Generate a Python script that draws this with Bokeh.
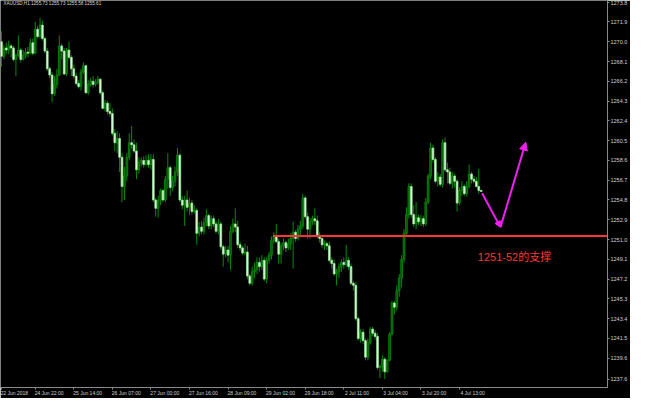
import numpy as np
from bokeh.plotting import figure
from bokeh.models import (ColumnDataSource, Range1d, FixedTicker, Arrow, NormalHead,
                          Label, NumeralTickFormatter)
from bokeh.core.properties import value
from bokeh.embed import file_html
from bokeh.resources import INLINE

# ---------------- data (XAUUSD H1) ----------------
opens = [
    1270.0, 1268.6, 1269.4, 1269.2, 1269.6, 1269.4, 1268.3, 1268.7, 1269.2, 1268.3,
    1268.7, 1269.0, 1268.9, 1269.9, 1268.9, 1271.2, 1270.5, 1271.6, 1270.3, 1269.1,
    1267.4, 1266.8, 1265.0, 1265.9, 1266.8, 1269.6, 1269.1, 1266.9, 1269.2, 1268.5,
    1267.4, 1266.7, 1266.0, 1265.7, 1267.1, 1267.7, 1265.1, 1265.9, 1266.2, 1265.9,
    1266.1, 1266.4, 1265.1, 1263.6, 1264.1, 1263.3, 1263.1, 1261.2, 1260.3, 1260.7,
    1258.9, 1256.1, 1257.1, 1258.9, 1260.3, 1260.1, 1259.5, 1257.7, 1258.4, 1258.6,
    1258.2, 1258.6, 1258.2, 1258.7, 1254.8, 1254.0, 1254.8, 1255.7, 1254.8, 1256.8,
    1257.9, 1256.0, 1256.6, 1257.5, 1259.1, 1254.8, 1254.3, 1254.8, 1254.1, 1254.5,
    1253.7, 1253.8, 1251.6, 1252.2, 1251.8, 1252.6, 1253.3, 1252.3, 1253.0, 1252.5,
    1251.8, 1252.5, 1250.3, 1249.6, 1250.0, 1249.5, 1251.8, 1252.5, 1252.2, 1250.5,
    1250.2, 1249.7, 1249.8, 1247.5, 1246.8, 1247.9, 1248.1, 1248.8, 1248.4, 1249.0,
    1247.2, 1249.0, 1249.5, 1250.9, 1251.3, 1250.8, 1249.6, 1250.4, 1250.7, 1250.2,
    1250.6, 1251.1, 1251.7, 1251.1, 1252.0, 1252.3, 1255.0, 1253.2, 1252.0, 1252.7,
    1253.0, 1252.8, 1251.3, 1251.1, 1250.5, 1250.6, 1250.4, 1249.0, 1248.7, 1247.7,
    1247.9, 1248.4, 1248.8, 1248.6, 1249.0, 1248.4, 1246.8, 1246.6, 1243.4, 1241.5,
    1242.1, 1241.3, 1239.7, 1241.1, 1242.4, 1242.0, 1241.7, 1238.7, 1238.8, 1239.5,
    1238.3, 1239.4, 1241.9, 1244.9, 1244.5, 1246.1, 1247.3, 1249.1, 1251.6, 1253.4,
    1256.1, 1253.4, 1252.5, 1253.1, 1252.7, 1253.0, 1252.5, 1254.6, 1257.1, 1259.8,
    1258.7, 1256.6, 1257.0, 1256.3, 1260.3, 1257.7, 1257.5, 1256.4, 1257.1, 1256.6,
    1254.5, 1255.7, 1256.1, 1255.4, 1256.1, 1257.3, 1256.8, 1256.6, 1256.1, 1255.73,
]
closes = [
    1268.6, 1269.4, 1269.2, 1269.6, 1269.4, 1268.3, 1268.7, 1269.2, 1268.3, 1268.7,
    1269.0, 1268.9, 1269.9, 1268.9, 1271.2, 1270.5, 1271.6, 1270.3, 1269.1, 1267.4,
    1266.8, 1265.0, 1265.9, 1266.8, 1269.6, 1269.1, 1266.9, 1269.2, 1268.5, 1267.4,
    1266.7, 1266.0, 1265.7, 1267.1, 1267.7, 1265.1, 1265.9, 1266.2, 1265.9, 1266.1,
    1266.4, 1265.1, 1263.6, 1264.1, 1263.3, 1263.1, 1261.2, 1260.3, 1260.7, 1258.9,
    1256.1, 1257.1, 1258.9, 1260.3, 1260.1, 1259.5, 1257.7, 1258.4, 1258.6, 1258.2,
    1258.6, 1258.2, 1258.7, 1254.8, 1254.0, 1254.8, 1255.7, 1254.8, 1256.8, 1257.9,
    1256.0, 1256.6, 1257.5, 1259.1, 1254.8, 1254.3, 1254.8, 1254.1, 1254.5, 1253.7,
    1253.8, 1251.6, 1252.2, 1251.8, 1252.6, 1253.3, 1252.3, 1253.0, 1252.5, 1251.8,
    1252.5, 1250.3, 1249.6, 1250.0, 1249.5, 1251.8, 1252.5, 1252.2, 1250.5, 1250.2,
    1249.7, 1249.8, 1247.5, 1246.8, 1247.9, 1248.1, 1248.8, 1248.4, 1249.0, 1247.2,
    1249.0, 1249.5, 1250.9, 1251.3, 1250.8, 1249.6, 1250.4, 1250.7, 1250.2, 1250.6,
    1251.1, 1251.7, 1251.1, 1252.0, 1252.3, 1255.0, 1253.2, 1252.0, 1252.7, 1253.0,
    1252.8, 1251.3, 1251.1, 1250.5, 1250.6, 1250.4, 1249.0, 1248.7, 1247.7, 1247.9,
    1248.4, 1248.8, 1248.6, 1249.0, 1248.4, 1246.8, 1246.6, 1243.4, 1241.5, 1242.1,
    1241.3, 1239.7, 1241.1, 1242.4, 1242.0, 1241.7, 1238.7, 1238.8, 1239.5, 1238.3,
    1239.4, 1241.9, 1244.9, 1244.5, 1246.1, 1247.3, 1249.1, 1251.6, 1253.4, 1256.1,
    1253.4, 1252.5, 1253.1, 1252.7, 1253.0, 1252.5, 1254.6, 1257.1, 1259.8, 1258.7,
    1256.6, 1257.0, 1256.3, 1260.3, 1257.7, 1257.5, 1256.4, 1257.1, 1256.6, 1254.5,
    1255.7, 1256.1, 1255.4, 1256.1, 1257.3, 1256.8, 1256.6, 1256.1, 1255.7, 1255.61,
]
highs = [
    1271.0, 1269.7, 1269.9, 1270.1, 1269.8, 1269.6, 1268.9, 1270.6, 1269.4, 1269.2,
    1269.4, 1269.5, 1270.3, 1270.3, 1271.9, 1271.5, 1272.3, 1272.0, 1270.5, 1269.4,
    1267.6, 1267.1, 1266.7, 1267.4, 1270.6, 1269.8, 1269.4, 1269.4, 1270.0, 1268.7,
    1267.8, 1267.0, 1266.3, 1267.4, 1268.0, 1267.8, 1266.3, 1266.5, 1266.7, 1266.4,
    1266.7, 1266.5, 1265.3, 1264.4, 1264.3, 1264.1, 1263.6, 1261.6, 1261.4, 1261.2,
    1259.3, 1258.0, 1259.3, 1261.2, 1261.9, 1260.6, 1260.3, 1258.9, 1258.9, 1259.0,
    1259.1, 1259.2, 1259.2, 1259.2, 1255.0, 1255.2, 1255.9, 1255.9, 1257.1, 1259.3,
    1258.1, 1257.1, 1258.0, 1259.8, 1259.3, 1255.2, 1255.2, 1255.7, 1255.0, 1254.8,
    1254.3, 1254.0, 1252.7, 1252.8, 1253.1, 1253.9, 1253.5, 1253.3, 1253.3, 1252.8,
    1253.0, 1252.7, 1250.5, 1250.4, 1250.4, 1252.3, 1253.0, 1254.0, 1252.8, 1250.8,
    1250.4, 1250.6, 1250.4, 1247.7, 1248.4, 1248.8, 1249.3, 1249.3, 1249.5, 1249.3,
    1249.3, 1249.8, 1251.3, 1251.7, 1252.5, 1251.1, 1250.7, 1251.1, 1250.9, 1251.1,
    1251.6, 1252.7, 1251.9, 1252.4, 1252.8, 1255.4, 1255.2, 1253.6, 1253.1, 1253.3,
    1254.0, 1253.3, 1251.7, 1251.3, 1250.9, 1250.8, 1250.8, 1249.3, 1249.1, 1248.2,
    1248.7, 1249.1, 1249.3, 1250.5, 1249.3, 1248.7, 1247.0, 1246.9, 1243.6, 1242.4,
    1242.4, 1241.5, 1241.5, 1242.6, 1242.6, 1242.3, 1242.0, 1239.0, 1239.9, 1239.7,
    1239.5, 1242.1, 1245.1, 1245.1, 1246.6, 1247.7, 1249.5, 1252.0, 1254.1, 1256.4,
    1256.4, 1254.3, 1254.6, 1253.4, 1253.4, 1253.3, 1255.0, 1257.3, 1260.3, 1260.1,
    1258.9, 1257.5, 1257.3, 1260.6, 1260.8, 1258.4, 1257.9, 1257.5, 1257.3, 1256.8,
    1256.0, 1256.6, 1256.3, 1256.6, 1258.2, 1257.5, 1257.1, 1257.0, 1257.8, 1255.73,
]
lows = [
    1267.6, 1268.3, 1268.8, 1268.8, 1268.5, 1268.1, 1266.7, 1268.5, 1268.0, 1268.2,
    1268.4, 1268.5, 1268.8, 1268.7, 1268.8, 1270.3, 1270.3, 1270.1, 1268.9, 1267.2,
    1266.5, 1264.2, 1264.8, 1265.5, 1266.7, 1268.3, 1266.8, 1266.7, 1268.3, 1266.7,
    1266.5, 1265.8, 1265.5, 1265.3, 1266.9, 1265.0, 1264.9, 1265.7, 1265.6, 1265.7,
    1265.9, 1264.9, 1263.5, 1263.3, 1263.0, 1262.8, 1261.0, 1259.5, 1259.3, 1257.5,
    1254.6, 1254.8, 1256.6, 1258.6, 1259.7, 1259.3, 1256.8, 1257.3, 1258.0, 1257.9,
    1258.1, 1257.9, 1257.7, 1254.6, 1253.2, 1253.1, 1254.3, 1254.6, 1254.6, 1255.9,
    1255.2, 1255.7, 1256.1, 1257.1, 1254.6, 1253.9, 1252.3, 1253.7, 1253.4, 1253.4,
    1253.5, 1250.5, 1251.3, 1251.5, 1251.5, 1252.3, 1252.0, 1252.0, 1252.2, 1251.6,
    1251.5, 1250.0, 1248.4, 1249.3, 1248.8, 1248.1, 1251.6, 1251.7, 1250.2, 1249.9,
    1249.5, 1249.5, 1247.2, 1246.6, 1246.6, 1247.3, 1247.7, 1247.9, 1248.1, 1247.0,
    1246.8, 1248.7, 1249.1, 1250.6, 1250.7, 1248.7, 1248.7, 1250.0, 1249.8, 1250.0,
    1250.0, 1248.2, 1250.8, 1250.9, 1251.4, 1252.0, 1253.0, 1251.1, 1251.1, 1252.4,
    1252.4, 1251.1, 1250.7, 1250.2, 1250.0, 1250.0, 1248.8, 1248.2, 1247.5, 1246.6,
    1247.3, 1247.9, 1248.2, 1248.4, 1248.1, 1246.6, 1246.1, 1243.2, 1241.3, 1241.1,
    1241.0, 1239.4, 1239.4, 1240.9, 1241.7, 1241.4, 1238.5, 1237.7, 1238.3, 1237.6,
    1238.2, 1239.3, 1241.8, 1243.8, 1244.2, 1245.5, 1246.4, 1248.8, 1251.3, 1253.0,
    1253.1, 1252.2, 1252.0, 1252.4, 1252.3, 1252.2, 1252.3, 1254.4, 1256.8, 1258.4,
    1256.4, 1256.1, 1256.1, 1256.0, 1257.5, 1256.4, 1256.2, 1255.9, 1256.0, 1253.7,
    1254.3, 1255.2, 1255.2, 1255.1, 1255.9, 1256.4, 1256.4, 1256.0, 1255.4, 1255.58,
]

date_ticks = [0, 14, 30, 46, 62, 78, 94, 110, 126, 142, 158, 174, 190]
date_labels = ["22 Jun 2018", "24 Jun 22:00", "25 Jun 14:00", "26 Jun 07:00",
               "27 Jun 00:00", "27 Jun 16:00", "28 Jun 09:00", "29 Jun 02:00",
               "29 Jun 18:00", "2 Jul 11:00", "3 Jul 04:00", "3 Jul 20:00",
               "4 Jul 13:00"]
price_ticks = [1237.6, 1239.6, 1241.5, 1243.4, 1245.3, 1247.2, 1249.1, 1251.0,
               1252.9, 1254.8, 1256.7, 1258.6, 1260.5, 1262.4, 1264.3, 1266.2,
               1268.1, 1270.0, 1271.9, 1273.8]

support_level = 1251.35
support_start = 112.6
support_text = "1251-52的支撑"
text_pos = (197.6, 1249.3)
arrow_x = [199.4, 207.0, 217.5]
arrow_y = [1255.45, 1252.18, 1260.35]
title_text = "XAUUSD,H1  1255.73 1255.73 1255.58 1255.61"

# ---------------- build ----------------
o = np.array(opens)
c = np.array(closes)
h = np.array(highs)
l = np.array(lows)
x = np.arange(len(c))
up = c > o
dn = ~up

src = ColumnDataSource(dict(x=x, high=h, low=l))
bull = ColumnDataSource(dict(x=x[up], top=np.maximum(o, c)[up], bottom=np.minimum(o, c)[up]))
bear = ColumnDataSource(dict(x=x[dn], top=np.maximum(o, c)[dn], bottom=np.minimum(o, c)[dn]))

X_END = 251.4
p = figure(width=630, height=398, output_backend="svg", toolbar_location=None,
           x_range=Range1d(-0.4, X_END), y_range=Range1d(1236.79, 1273.96),
           x_axis_location="below", y_axis_location="right",
           background_fill_color="black", border_fill_color="black",
           outline_line_color=None, min_border=0)
p.grid.visible = False

FONT = "Liberation Sans"
AX = "#8a8a8a"
LAB = "#d0d0d0"
NB = "\u00a0"

# MetaTrader prints each date label starting at its tick: pad on the left so the
# centred Bokeh label begins at the tick mark (the first one is already at the edge).
def left_start(s, i):
    return s if i == 0 else NB * round(len(s) * 1.7) + s

xa = p.xaxis[0]
xa.ticker = FixedTicker(ticks=date_ticks)
xa.major_label_overrides = {t: left_start(s, i)
                            for i, (t, s) in enumerate(zip(date_ticks, date_labels))}
xa.major_label_text_font = FONT
xa.major_label_text_font_size = "5px"
xa.major_label_text_color = LAB
xa.major_label_standoff = 0
xa.axis_line_color = AX
xa.major_tick_line_color = AX
xa.major_tick_in = 0
xa.major_tick_out = 2
xa.minor_tick_line_color = None

ya = p.yaxis[0]
ya.ticker = FixedTicker(ticks=price_ticks)
ya.formatter = NumeralTickFormatter(format="0.0")
ya.major_label_text_font = FONT
ya.major_label_text_font_size = "5.5px"
ya.major_label_text_color = LAB
ya.major_label_standoff = 1
ya.axis_line_color = AX
ya.major_tick_line_color = AX
ya.major_tick_in = 0
ya.major_tick_out = 2
ya.minor_tick_line_color = None

# candles
p.segment(x0="x", y0="low", x1="x", y1="high", source=src, line_color="#0a8a0a", line_width=1)
p.vbar(x="x", width=0.72, top="top", bottom="bottom", source=bull,
       fill_color="#005a00", line_color="#0a8a0a", line_width=0.8)
p.vbar(x="x", width=0.72, top="top", bottom="bottom", source=bear,
       fill_color="#eaffea", line_color="#90e090", line_width=0.8)

# support line
p.segment(x0=[support_start], y0=[support_level], x1=[X_END + 10], y1=[support_level],
          line_color="#ff3535", line_width=2)

# magenta projection arrows
MAG = "#f020f0"
p.add_layout(Arrow(x_start=arrow_x[0], y_start=arrow_y[0], x_end=arrow_x[1], y_end=arrow_y[1],
                   line_color=MAG, line_width=2,
                   end=NormalHead(size=6, fill_color=MAG, line_color=MAG)))
p.add_layout(Arrow(x_start=arrow_x[1], y_start=arrow_y[1], x_end=arrow_x[2], y_end=arrow_y[2],
                   line_color=MAG, line_width=2,
                   end=NormalHead(size=8, fill_color=MAG, line_color=MAG)))

# annotation text
p.text(x=[text_pos[0]], y=[text_pos[1]], text=[support_text],
       text_font=value("Liberation Sans, Noto Sans CJK SC"), text_font_size="11px",
       text_color="#ff3535", text_align="left", text_baseline="middle")

# header
p.add_layout(Label(x=0.8, y=1273.96, text=title_text, text_font=FONT,
                   text_font_size="4.6px", text_color="#d8d8d8", text_baseline="top"))

# current price box
p.add_layout(Label(x=X_END, y=closes[-1], x_offset=1, text=f"{closes[-1]:.2f}",
                   text_font=FONT, text_font_size="5px", text_color="black",
                   background_fill_color="white", text_baseline="middle"))

open("out.html", "w").write(file_html(p, INLINE, title="XAUUSD H1"))
